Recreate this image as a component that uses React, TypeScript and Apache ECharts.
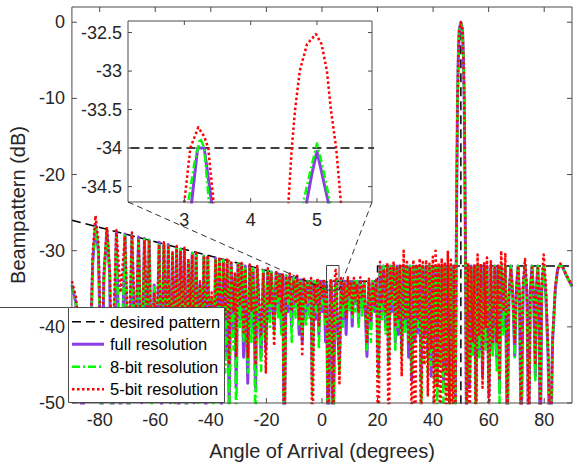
import React, { useEffect, useRef } from "react";
import * as echarts from "echarts";

// ---- data (angle in degrees, beampattern in dB) ----
const angleDeg = [
  -90.0, -88.6, -86.3, -83.1, -82.5, -81.5, -80.5, -79.9, -79.3, -78.5,
  -77.4, -76.4, -75.6, -74.0, -72.5, -70.9, -69.6, -68.4, -67.2, -66.0,
  -64.9, -63.9, -62.9, -62.2, -61.3, -60.4, -59.5, -58.6, -57.7, -56.9,
  -56.0, -55.3, -54.5, -53.8, -53.0, -52.3, -51.6, -50.9, -50.2, -49.5,
  -48.8, -48.1, -47.4, -46.7, -46.0, -45.3, -44.6, -43.9, -43.2, -42.5,
  -41.8, -41.1, -40.4, -39.7, -39.0, -38.3, -37.6, -36.9, -36.2, -35.5,
  -34.8, -34.1, -33.4, -32.7, -31.8, -31.3, -30.9, -30.2, -29.5, -28.9,
  -28.2, -27.6, -26.7, -26.0, -25.4, -24.8, -23.9, -23.3, -21.9, -21.1,
  -20.2, -19.5, -18.8, -18.2, -17.2, -16.5, -15.8, -15.3, -14.6, -14.1,
  -13.6, -12.9, -12.2, -11.6, -10.9, -10.2, -9.5, -8.9, -8.2, -7.7,
  -7.1, -6.5, -5.8, -5.2, -4.4, -3.9, -3.5, -2.8, -2.2, -1.6,
  -1.1, -0.5, 0.1, 0.7, 1.3, 1.7, 2.2, 4.0, 6.3, 6.9,
  7.5, 8.1, 8.7, 9.3, 9.9, 10.4, 10.9, 11.5, 12.0, 12.6,
  13.2, 13.8, 14.5, 15.2, 16.2, 16.9, 17.6, 18.3, 19.0, 19.6,
  20.3, 20.9, 21.6, 22.2, 22.9, 23.5, 24.0, 24.6, 25.2, 25.8,
  26.4, 27.0, 27.5, 28.1, 28.7, 29.4, 30.0, 30.6, 31.2, 31.7,
  32.3, 32.9, 33.5, 34.0, 34.6, 35.2, 35.7, 36.3, 36.9, 37.5,
  38.1, 38.7, 39.3, 39.9, 40.4, 40.9, 41.5, 42.0, 42.6, 43.1,
  43.7, 44.2, 44.8, 45.3, 45.9, 46.4, 47.0, 47.5, 48.0, 48.35,
  48.55, 48.8, 49.05, 49.4, 50.0, 50.6, 50.95, 51.2, 51.45, 51.65,
  52.0, 52.6, 53.1, 53.7, 54.3, 54.9, 55.4, 56.0, 56.6, 57.2,
  57.8, 58.4, 58.9, 59.4, 60.1, 60.8, 61.5, 62.2, 62.9, 63.4,
  63.9, 64.5, 65.3, 66.0, 66.7, 67.3, 68.0, 68.7, 69.4, 70.0,
  70.6, 71.1, 71.7, 72.4, 73.1, 73.8, 74.4, 75.0, 75.6, 76.2,
  76.8, 77.2, 77.7, 78.1, 78.6, 79.1, 79.8, 80.6, 81.4, 82.2,
  83.0, 84.0, 84.8, 85.8, 86.8, 88.0, 90.0,
];

const fullDb = [
  -34.5, -36.8, -52, -40, -31.5, -26.6, -30.0, -39.5, -56, -33.5,
  -27.3, -33.0, -58, -27.6, -52, -27.8, -55, -28.0, -47, -28.2,
  -50, -28.4, -44, -28.6, -48, -34.5, -46, -28.9, -52, -29.1,
  -45, -29.2, -50, -30.5, -46, -29.6, -55, -29.8, -47, -30.0,
  -52, -31.5, -44, -30.3, -50, -30.4, -46, -34.4, -48, -30.7,
  -53, -30.9, -45, -36.4, -49, -31.0, -47, -31.1, -52, -31.2,
  -44, -31.3, -50, -31.6, -41, -33.5, -48, -31.7, -39, -31.9,
  -44, -32.0, -47.4, -32.2, -40, -32.3, -48, -32.4, -44, -32.6,
  -43, -32.7, -39, -32.8, -40, -32.9, -38, -33.1, -40, -33.4,
  -56, -33.3, -38, -33.4, -40, -33.6, -37.5, -33.7, -41, -33.8,
  -42, -33.9, -39, -34.0, -38.5, -34.0, -47, -34.0, -39, -34.0,
  -41, -34.0, -38, -34.0, -42, -34.5, -58, -57, -45, -34.0,
  -39, -34.0, -41, -34.0, -37.5, -34.1, -39.9, -34.0, -37, -34.0,
  -39.5, -34.0, -37.5, -34.2, -43.9, -34.0, -40, -34.0, -38, -34.1,
  -45.6, -32.0, -38, -32.0, -40, -32.0, -44.7, -32.0, -38, -32.0,
  -42, -32.0, -41, -32.0, -43, -32.0, -40, -32.0, -44, -32.0,
  -47, -32.0, -42, -32.0, -40.8, -32.0, -47, -32.0, -41, -32.0,
  -44, -32.0, -46.5, -32.0, -45, -32.0, -47.4, -32.0, -44, -32.0,
  -48, -32.0, -46, -32.0, -49, -32.0, -45, -32.0, -50, -30,
  -20, -10, -5, -1, 0, -1, -5, -10, -20, -30,
  -52, -32.0, -48, -32.0, -43, -32.0, -49.6, -32.0, -43, -32.0,
  -46.5, -32.0, -42, -32.0, -49, -32.0, -43, -32.0, -44, -32.0,
  -48.7, -32.0, -40, -32.0, -55, -36, -32.0, -36, -43.9, -35,
  -32.0, -36, -55, -35, -32.0, -36, -56, -35.5, -32.0, -36,
  -46.5, -35, -32.0, -36, -58, -35, -32.0, -36, -44, -60,
  -42, -35, -32.5, -31.8, -32.3, -33.3, -34.7,
];

const bit8Db = [
  -34.6, -36.9, -49, -40.5, -31.6, -26.7, -30.1, -40, -53, -33.6,
  -27.3, -33.2, -54, -27.6, -50, -27.8, -51, -28.1, -49, -28.3,
  -46, -28.5, -45, -28.6, -52, -34.8, -44, -29.0, -49, -29.1,
  -47, -29.2, -48, -30.6, -51, -29.6, -50, -29.8, -45, -30.0,
  -55, -31.6, -43, -30.3, -48, -30.4, -50, -34.6, -46, -30.7,
  -50, -30.9, -47, -36.2, -52, -31.0, -45, -31.1, -49, -31.2,
  -46, -31.3, -53, -31.6, -43, -33.4, -54, -31.7, -40, -31.9,
  -42, -32.0, -46, -32.2, -42, -32.3, -54, -32.4, -45.8, -32.6,
  -42, -32.7, -40, -32.8, -41, -32.9, -39, -33.1, -41, -33.5,
  -58, -33.3, -37, -33.4, -42, -33.6, -38.8, -33.7, -40, -33.8,
  -41, -33.9, -40, -34.0, -39, -34.0, -49, -34.0, -38, -34.0,
  -43, -34.0, -37, -34.0, -40, -34.6, -60, -55, -46, -34.0,
  -40, -34.0, -38, -34.0, -38, -34.0, -39, -34.0, -38, -34.0,
  -40, -34.0, -38.5, -34.3, -43, -34.0, -42, -34.0, -37.5, -34.0,
  -47, -32.0, -39, -32.0, -41, -32.0, -45, -32.0, -37, -32.0,
  -43, -32.0, -40, -32.0, -44, -32.0, -41, -32.0, -42, -32.0,
  -46, -32.0, -41, -32.0, -40, -32.0, -55, -32.0, -40, -32.0,
  -46, -32.0, -45, -32.0, -47.4, -32.0, -52, -32.0, -45, -32.0,
  -50, -32.0, -49, -32.0, -56, -32.0, -48, -32.0, -52, -30,
  -20, -10, -5, -1, 0, -1, -5, -10, -20, -30,
  -50, -32.0, -47, -32.0, -44, -32.0, -52, -32.0, -44, -32.0,
  -45, -32.0, -43, -32.0, -48, -32.0, -44, -32.0, -46, -32.0,
  -50, -32.0, -41, -32.0, -58, -36.5, -32.0, -36.3, -44, -35.2,
  -32.0, -36.4, -58, -35, -32.0, -36.5, -54, -35.5, -32.0, -36,
  -47, -35, -32.0, -36, -55, -35, -32.0, -36, -44, -58,
  -42, -35, -32.5, -31.8, -32.3, -33.3, -34.7,
];

const bit5Db = [
  -34.0, -36.0, -44, -38.5, -30.2, -25.4, -28.6, -37.5, -47, -32.8,
  -26.9, -32.3, -46, -27.3, -35.5, -28.1, -43, -27.6, -41, -28.4,
  -44, -28.6, -40, -28.8, -45, -35.5, -40, -29.2, -44, -28.9,
  -41, -29.5, -46, -30.0, -42, -29.4, -44, -30.0, -40, -29.6,
  -46, -31.0, -38, -30.5, -43, -30.0, -44, -34.0, -41, -30.9,
  -45, -30.6, -42, -35.5, -44, -31.3, -40, -30.8, -46, -31.5,
  -39, -31.0, -45, -31.3, -38, -32.8, -44, -31.9, -37, -31.6,
  -41, -32.4, -44, -31.8, -38, -32.6, -45, -32.0, -41, -32.9,
  -46, -32.3, -37, -33.1, -42.5, -32.6, -36, -33.3, -38, -33.0,
  -60, -33.6, -36.5, -33.0, -38, -33.9, -37, -33.3, -39, -34.0,
  -43.9, -33.5, -37, -34.2, -36.5, -33.6, -60, -34.3, -37, -33.6,
  -40, -34.2, -36, -33.7, -39, -34.1, -56, -60, -47.4, -33.6,
  -37, -34.3, -39, -33.5, -36, -34.3, -38.5, -33.6, -36.5, -34.4,
  -38, -33.5, -36, -34.0, -42, -33.7, -39, -34.3, -37, -33.6,
  -60, -31.5, -37, -32.4, -38, -31.6, -60, -32.3, -36.5, -31.4,
  -40, -32.3, -39, -31.8, -46.5, -30.0, -39, -31.5, -42, -32.3,
  -55, -31.2, -60, -31.8, -39, -31.0, -58, -31.5, -45, -31.2,
  -49, -31.7, -43, -30.8, -58, -30.0, -48, -31.6, -58, -31.0,
  -46, -31.5, -60, -30.0, -52, -31.2, -58, -31.8, -55, -30,
  -20, -10, -5, -1.1, 0, -1.1, -5, -10, -20, -30,
  -56, -31.6, -58, -32.2, -42, -31.8, -60, -30.5, -41, -31.7,
  -48, -31.5, -40, -30.9, -55, -31.4, -42, -32.2, -42, -31.8,
  -47, -30.0, -38, -30.3, -52, -35.5, -32.3, -35.8, -42, -34.6,
  -32.0, -35.5, -53, -34, -31.1, -35, -58, -35, -32.2, -35.8,
  -45, -34.8, -32.3, -35.5, -56, -33.8, -30.5, -34.5, -43, -56,
  -41.5, -34.8, -32.4, -31.7, -32.2, -33.2, -34.6,
];

// fine detail of the two sidelobes shown in the inset, [angle, dB]
const fullInsetPts = [
  [2.9, -39], [3.11, -34.7], [3.2, -34.0], [3.3, -34.0], [3.41, -34.7], [3.6, -39],
  [4.6, -39], [4.845, -34.7], [4.92, -34.35], [5.0, -34.04], [5.08, -34.35], [5.17, -34.7], [5.4, -38.5],
];
const bit8InsetPts = [
  [2.9, -38.5], [3.06, -34.7], [3.15, -34.2], [3.24, -33.87], [3.3, -34.0], [3.37, -34.7], [3.55, -39],
  [4.55, -39], [4.795, -34.7], [4.9, -34.3], [5.0, -33.94], [5.1, -34.3], [5.196, -34.7], [5.42, -38.5],
];
const bit5InsetPts = [
  [2.85, -38], [3.0, -34.7], [3.09, -34.0], [3.21, -33.73], [3.3, -33.85], [3.36, -34.0], [3.44, -34.7], [3.6, -38.5],
  [4.35, -39], [4.57, -34.7], [4.62, -34.0], [4.67, -33.5], [4.74, -33.0], [4.85, -32.65], [4.985, -32.52],
  [5.07, -32.65], [5.15, -33.0], [5.21, -33.5], [5.29, -34.0], [5.36, -34.7], [5.6, -39],
];

// desired pattern (mask); "-" breaks the line
const desiredPts: (number | string)[][] = [
  [-90, -26], [-5, -34], [20, -34], [20, -32], [49.6, -32],
  [50, "-"], [50, -52], [50, 0], [50, "-"],
  [50.4, -32], [90, -32],
];

const xTicks = [-80, -60, -40, -20, 0, 20, 40, 60, 80];
const yTicks = [-50, -40, -30, -20, -10, 0];
const insetXTicks = [3, 4, 5];
const insetYTicks = [-34.5, -34, -33.5, -33, -32.5];
const mainRange = { xMin: -90, xMax: 90, yMin: -50, yMax: 2 };
const insetRange = { xMin: 2.15, xMax: 5.83, yMin: -34.7, yMax: -32.35 };

const legendLabels = ["desired pattern", "full resolution", "8-bit resolution", "5-bit resolution"];

const FONT = "'Liberation Sans', Arial, Helvetica, sans-serif";
const AX = "#4a4a4a";
const TXT = "#262626";
const PURPLE = "#8c3ce6";
const GREEN = "#00ff00";
const RED = "#ff0000";

const MAIN_BOX = { left: 68, top: 7, width: 504, height: 396 };
const INSET_BOX = { left: 128, top: 21, width: 244, height: 181 };

function buildPts(values: number[], extra: number[][]) {
  const n = Math.min(angleDeg.length, values.length);
  const pts: number[][] = [];
  for (let i = 0; i < n; i++) pts.push([angleDeg[i], values[i]]);
  for (const p of extra) pts.push([p[0], p[1]]);
  pts.sort((a, b) => a[0] - b[0]);
  return pts;
}

// axes box and inward ticks expressed in each axis' own data units (drawn through the scales)
function frameData(r: any, box: any, xt: number[], yt: number[], tickPx: number) {
  const dx = (tickPx / box.width) * (r.xMax - r.xMin);
  const dy = (tickPx / box.height) * (r.yMax - r.yMin);
  const d: (number | string)[][] = [
    [r.xMin, r.yMax], [r.xMax, r.yMax], [r.xMax, r.yMin], [r.xMin, r.yMin], [r.xMin, r.yMax], ["-", "-"],
  ];
  xt.forEach((v) => {
    d.push([v, r.yMin], [v, r.yMin + dy], ["-", "-"]);
    d.push([v, r.yMax], [v, r.yMax - dy], ["-", "-"]);
  });
  yt.forEach((v) => {
    d.push([r.xMin, v], [r.xMin + dx, v], ["-", "-"]);
    d.push([r.xMax, v], [r.xMax - dx, v], ["-", "-"]);
  });
  return d;
}

function axis(opts: any) {
  const { ticks, labels, fontSize, margin, ...rest } = opts;
  return {
    type: "value",
    axisLine: { show: false, onZero: false },
    axisTick: { show: false },
    axisLabel: labels
      ? { show: true, customValues: ticks, fontSize: fontSize || 18, margin: margin ?? 8, color: TXT, fontFamily: FONT }
      : { show: false },
    splitLine: { show: false },
    ...rest,
  };
}

export default function App() {
  const ref = useRef<HTMLDivElement>(null);

  useEffect(() => {
    document.body.style.margin = "0";
    if (!ref.current) return;
    const chart = echarts.init(ref.current, undefined, { renderer: "svg" });

    const fullPts = buildPts(fullDb, fullInsetPts);
    const bit8Pts = buildPts(bit8Db, bit8InsetPts);
    const bit5Pts = buildPts(bit5Db, bit5InsetPts);

    const styles = [
      { color: "#000", width: 1.5, type: [9, 5] as any },
      { color: PURPLE, width: 3, type: "solid" as any },
      { color: GREEN, width: 2.5, type: [8, 3, 2, 3] as any },
      { color: RED, width: 2.5, type: [2.5, 2.5] as any },
    ];
    const datas = [desiredPts, fullPts, bit8Pts, bit5Pts];

    const series: any[] = [];
    [0, 1].forEach((g) => {
      datas.forEach((d, i) => {
        series.push({
          type: "line",
          name: legendLabels[i] + (g ? " (inset)" : ""),
          xAxisIndex: g,
          yAxisIndex: g,
          data: d,
          showSymbol: false,
          symbol: "none",
          silent: true,
          clip: true,
          connectNulls: false,
          z: g ? 5 : 2,
          lineStyle: { color: styles[i].color, width: styles[i].width, type: styles[i].type, cap: "butt", join: "round" },
        });
      });
    });
    // box outlines with ticks
    [
      { g: 0, d: frameData(mainRange, MAIN_BOX, xTicks, yTicks, 5) },
      { g: 1, d: frameData(insetRange, INSET_BOX, insetXTicks, insetYTicks, 4) },
    ].forEach(({ g, d }) => {
      series.push({
        type: "line",
        name: g ? "inset box" : "axes box",
        xAxisIndex: g,
        yAxisIndex: g,
        data: d,
        showSymbol: false,
        symbol: "none",
        silent: true,
        clip: false,
        connectNulls: false,
        z: 8,
        lineStyle: { color: AX, width: 1, type: "solid", cap: "butt" },
      });
    });

    const legendEls: any[] = [
      { type: "rect", shape: { x: 0, y: 307, width: 68, height: 1 }, style: { fill: AX }, z: 20 },
      { type: "rect", shape: { x: 68.5, y: 307.5, width: 156, height: 95 }, style: { fill: "#fff", stroke: AX, lineWidth: 1 }, z: 20 },
    ];
    legendLabels.forEach((lab, i) => {
      const y = 321.7 + i * 22.5;
      legendEls.push({
        type: "line",
        shape: { x1: 72, y1: y, x2: 104, y2: y },
        style: { stroke: styles[i].color, lineWidth: styles[i].width, lineDash: Array.isArray(styles[i].type) ? styles[i].type : null },
        z: 21,
      });
      legendEls.push({
        type: "text",
        x: 110,
        y: y,
        style: { text: lab, fontSize: 16.5, fontFamily: FONT, fill: "#000", verticalAlign: "middle", align: "left" },
        z: 21,
      });
    });

    const option: any = {
      animation: false,
      backgroundColor: "#fff",
      grid: [
        { left: MAIN_BOX.left, top: MAIN_BOX.top, width: MAIN_BOX.width, height: MAIN_BOX.height },
        { left: INSET_BOX.left, top: INSET_BOX.top, width: INSET_BOX.width, height: INSET_BOX.height, show: true, backgroundColor: "#fff", borderWidth: 0, z: 3 },
      ],
      xAxis: [
        axis({
          gridIndex: 0, min: mainRange.xMin, max: mainRange.xMax, position: "bottom", ticks: xTicks, labels: true, margin: 8,
          name: "Angle of Arrival (degrees)", nameLocation: "middle", nameGap: 38,
          nameTextStyle: { fontSize: 20, color: TXT, fontFamily: FONT },
        }),
        axis({ gridIndex: 1, min: insetRange.xMin, max: insetRange.xMax, position: "bottom", ticks: insetXTicks, labels: true, margin: 9, z: 6 }),
      ],
      yAxis: [
        axis({
          gridIndex: 0, min: mainRange.yMin, max: mainRange.yMax, position: "left", ticks: yTicks, labels: true, margin: 7,
          name: "Beampattern (dB)", nameLocation: "middle", nameGap: 40,
          nameTextStyle: { fontSize: 20, color: TXT, fontFamily: FONT },
        }),
        axis({ gridIndex: 1, min: insetRange.yMin, max: insetRange.yMax, position: "left", ticks: insetYTicks, labels: true, margin: 6, z: 6 }),
      ],
      series,
      graphic: {
        elements: [
          { type: "rect", shape: { x: 326.5, y: 265.5, width: 12.5, height: 24.5 }, style: { fill: "transparent", stroke: "#444", lineWidth: 1 }, z: 10 },
          { type: "line", shape: { x1: 128, y1: 202, x2: 326.5, y2: 290 }, style: { stroke: "#000", lineWidth: 0.8, lineDash: [6, 4] }, z: 10 },
          { type: "line", shape: { x1: 372, y1: 202, x2: 339, y2: 290 }, style: { stroke: "#000", lineWidth: 0.8, lineDash: [6, 4] }, z: 10 },
          ...legendEls,
        ],
      },
    };

    chart.setOption(option);
    return () => chart.dispose();
  }, []);

  return <div ref={ref} style={{ width: 574, height: 466 }} />;
}
